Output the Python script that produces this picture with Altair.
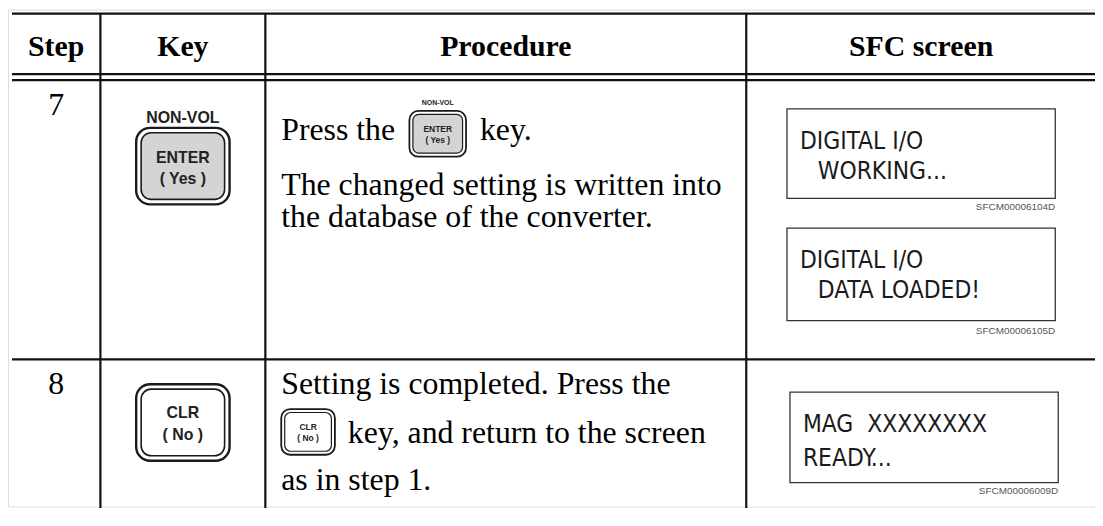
import altair as alt
import pandas as pd

# ---------------- content (text of the table) ----------------
headers = ["Step", "Key", "Procedure", "SFC screen"]
steps = ["7", "8"]
big_key_lines = [["ENTER", "( Yes )"], ["CLR", "( No )"]]
key_prefix = "NON-VOL"
proc7_lines = ["Press the", "key.", "The changed setting is written into", "the database of the converter."]
proc8_lines = ["Setting is completed. Press the", "key, and return to the screen", "as in step 1."]
screen_lines = [["DIGITAL I/O", "WORKING..."], ["DIGITAL I/O", "DATA LOADED!"], ["MAG\u00a0\u00a0XXXXXXXX", "READY..."]]
screen_ids = ["SFCM00006104D", "SFCM00006105D", "SFCM00006009D"]

# ---------------- layout (page pixel grid) ----------------
COLS = [12, 101, 267, 751, 1103]
TOP, HL1, HL2, SEP, BOT = 12, 73, 79, 360, 526
TXT_L = 283

X0, X1, Y0, Y1 = 8, 1102, 8, 508
W, H = X1 - X0, Y1 - Y0
xs = alt.Scale(domain=[X0, X1], nice=False, zero=False)
ys = alt.Scale(domain=[Y0, Y1], nice=False, zero=False, reverse=True)


def enc(df_has_x2=False, df_has_y2=False, **extra):
    e = dict(x=alt.X("x:Q", scale=xs, axis=None), y=alt.Y("y:Q", scale=ys, axis=None))
    if df_has_x2:
        e["x2"] = alt.X2("x2:Q")
    if df_has_y2:
        e["y2"] = alt.Y2("y2:Q")
    e.update(extra)
    return e


centers = [(COLS[i] + COLS[i + 1]) / 2 for i in range(4)]

# rules
hl = pd.DataFrame({"x": [COLS[0]] * 4, "x2": [COLS[-1]] * 4, "y": [TOP, HL1, HL2, SEP]})
vl = pd.DataFrame({"x": COLS[1:4], "y": [TOP] * 3, "y2": [BOT] * 3})
hrules = alt.Chart(hl).mark_rule(color="#111", strokeWidth=2.2).encode(
    x=alt.X("x:Q", scale=xs, axis=None), x2="x2:Q", y=alt.Y("y:Q", scale=ys, axis=None))
vrules = alt.Chart(vl).mark_rule(color="#111", strokeWidth=2.2).encode(
    x=alt.X("x:Q", scale=xs, axis=None), y=alt.Y("y:Q", scale=ys, axis=None), y2="y2:Q")

# header text
hdr = pd.DataFrame({"t": headers, "x": centers, "y": [55] * 4})
header = alt.Chart(hdr).mark_text(font="Liberation Serif", fontWeight="bold", fontSize=30,
                                  align="center", baseline="alphabetic", color="#000").encode(
    text="t:N", **enc())

# step numbers
stp = pd.DataFrame({"t": steps, "x": [centers[0]] * 2, "y": [114, 395]})
step_txt = alt.Chart(stp).mark_text(font="Liberation Serif", fontSize=32, align="center",
                                    baseline="alphabetic", color="#000").encode(text="t:N", **enc())

# procedure body text
body = pd.DataFrame({
    "t": [proc7_lines[0], proc7_lines[1], proc7_lines[2], proc7_lines[3],
          proc8_lines[0], proc8_lines[1], proc8_lines[2]],
    "x": [TXT_L, 483, TXT_L, TXT_L, TXT_L, 350, TXT_L],
    "y": [139, 139, 195, 227, 395, 444, 491],
})
body_txt = alt.Chart(body).mark_text(font="Liberation Serif", fontSize=32, align="left",
                                     baseline="alphabetic", color="#000").encode(text="t:N", **enc())

# key icons: big ones (Key column) and small inline ones
big_keys = pd.DataFrame({"x": [137, 137], "x2": [231, 231], "y": [127, 385], "y2": [204, 462],
                         "fill": ["#d4d4d4", "#ffffff"]})
small_keys = pd.DataFrame({"x": [412, 283], "x2": [469, 337], "y": [110, 410], "y2": [156, 456],
                           "fill": ["#d4d4d4", "#ffffff"]})


def key_layers(df, inset, r_out, r_in, w_out, w_in):
    inner = df.copy()
    inner["x"] += inset
    inner["x2"] -= inset
    inner["y"] += inset
    inner["y2"] -= inset
    outer = alt.Chart(df).mark_rect(cornerRadius=r_out, stroke="#1a1a1a", strokeWidth=w_out,
                                    fill="#ffffff").encode(**enc(True, True))
    inn = alt.Chart(inner).mark_rect(cornerRadius=r_in, stroke="#1a1a1a", strokeWidth=w_in).encode(
        fill=alt.Fill("fill:N", scale=None), **enc(True, True))
    return outer + inn


big_key_lyr = key_layers(big_keys, 5, 14, 10, 2.4, 1.6)
small_key_lyr = key_layers(small_keys, 3.5, 9, 6, 1.8, 1.2)

bk_text = pd.DataFrame({
    "t": [key_prefix, big_key_lines[0][0], big_key_lines[0][1], big_key_lines[1][0], big_key_lines[1][1]],
    "x": [184] * 5,
    "y": [117, 157, 179, 414, 436],
})
bk_txt = alt.Chart(bk_text).mark_text(font="Liberation Sans", fontWeight="bold", fontSize=16,
                                      align="center", baseline="middle", color="#222").encode(
    text="t:N", **enc())

sk_text = pd.DataFrame({
    "t": [big_key_lines[0][0], big_key_lines[0][1], big_key_lines[1][0], big_key_lines[1][1]],
    "x": [440.5, 440.5, 310, 310],
    "y": [128, 139, 428, 439],
})
sk_txt = alt.Chart(sk_text).mark_text(font="Liberation Sans", fontWeight="bold", fontSize=8.5,
                                      align="center", baseline="middle", color="#222").encode(
    text="t:N", **enc())
sk_pre = alt.Chart(pd.DataFrame({"t": [key_prefix], "x": [440.5], "y": [102]})).mark_text(
    font="Liberation Sans", fontWeight="bold", fontSize=7, align="center", baseline="middle",
    color="#222").encode(text="t:N", **enc())

# SFC screens
boxes = pd.DataFrame({"x": [792, 792, 795], "x2": [1062, 1062, 1065],
                      "y": [108, 228, 393], "y2": [198, 321, 484]})
box_lyr = alt.Chart(boxes).mark_rect(fill="#ffffff", stroke="#333", strokeWidth=1.3).encode(**enc(True, True))

scr = pd.DataFrame({
    "t": [screen_lines[0][0], screen_lines[0][1], screen_lines[1][0], screen_lines[1][1],
          screen_lines[2][0], screen_lines[2][1]],
    "x": [805, 823, 805, 823, 808, 808],
    "y": [148, 178, 268, 298, 433, 467],
})
scr_txt = alt.Chart(scr).mark_text(font="DejaVu Sans Condensed, Liberation Sans, sans-serif", fontSize=24.5,
                                   align="left", baseline="alphabetic", color="#1a1a1a").encode(
    text="t:N", **enc())

ids = pd.DataFrame({"t": screen_ids, "x": [1062, 1062, 1065], "y": [207, 331, 493]})
id_txt = alt.Chart(ids).mark_text(font="Liberation Sans", fontSize=10, align="right",
                                  baseline="middle", color="#555").encode(text="t:N", **enc())

chart = alt.layer(
    hrules, vrules, header, step_txt, body_txt, big_key_lyr, small_key_lyr, bk_txt, sk_txt, sk_pre,
    box_lyr, scr_txt, id_txt,
).properties(width=W, height=H, padding=0, autosize=alt.AutoSizeParams(type="none")).configure_view(
    stroke=None).configure(background="#ffffff")

chart.save("out.html", embed_options={"renderer": "svg", "actions": False})
